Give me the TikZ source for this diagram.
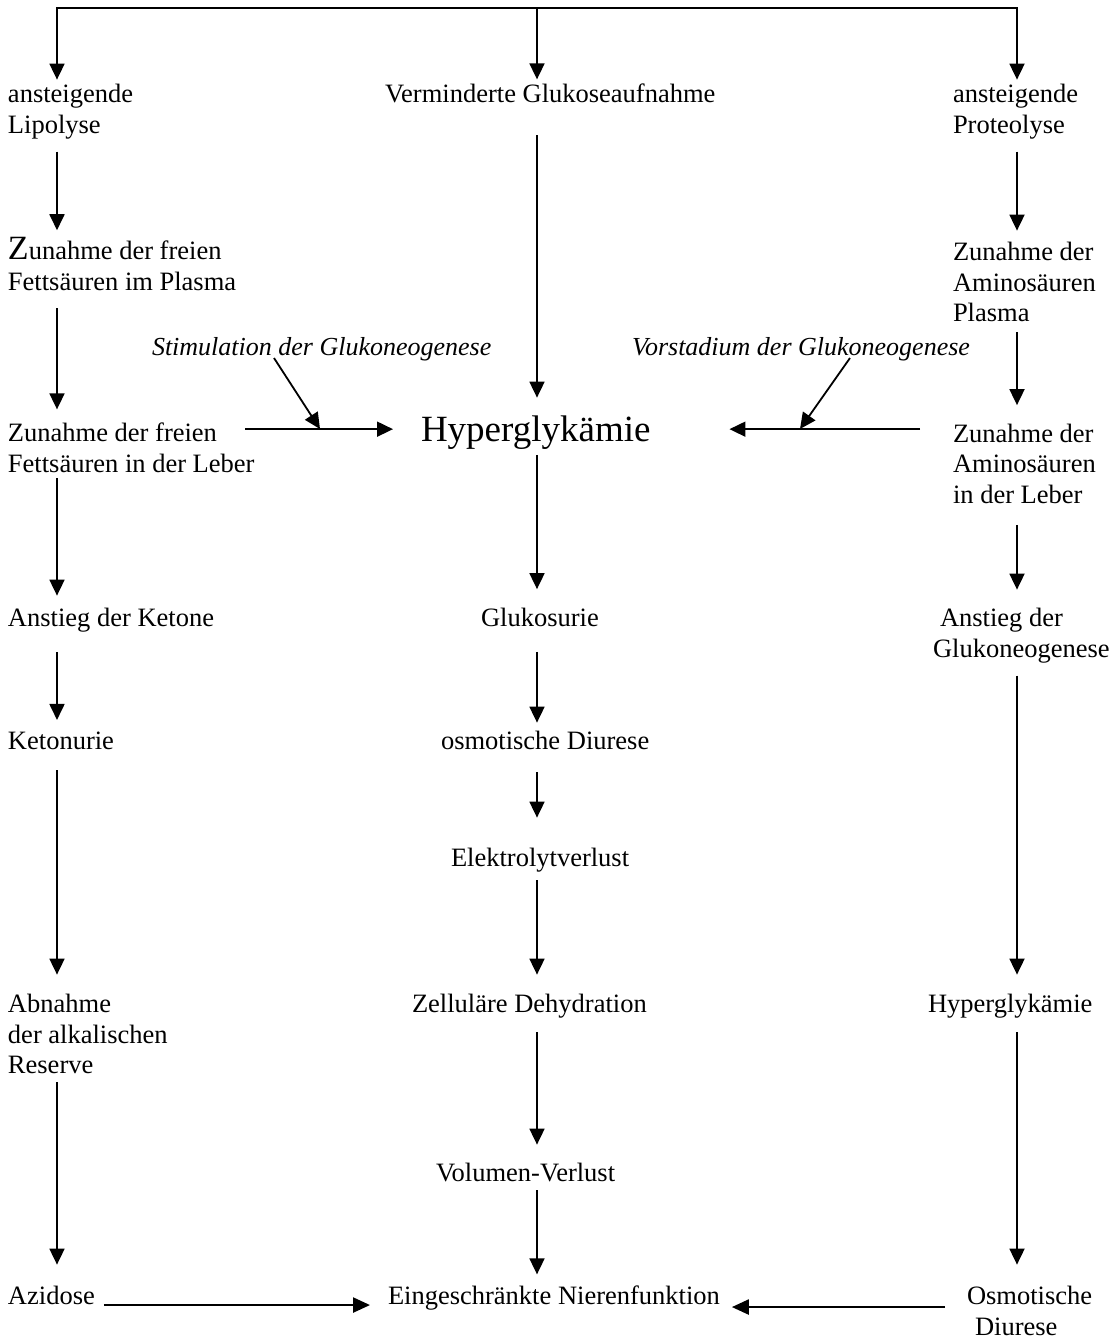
\documentclass[tikz,border=0pt]{standalone}
\usepackage{fontspec}
\setmainfont{Liberation Serif}
\usetikzlibrary{arrows.meta}
\begin{document}
\begin{tikzpicture}[x=1pt,y=-1pt]
\tikzset{
  txt/.style={font=\fontsize{26.5}{30.5}\selectfont, inner sep=0pt, outer sep=0pt, align=left, anchor=base west},
  big/.style={font=\fontsize{37}{42}\selectfont, inner sep=0pt, outer sep=0pt, anchor=base west},
  lab/.style={font=\fontsize{26}{30}\selectfont\itshape, inner sep=0pt, outer sep=0pt, anchor=base west},
  arr/.style={line width=1.8pt, -{Triangle[width=15pt,length=16pt]}},
  barr/.style={line width=2.4pt, -{Triangle[width=15pt,length=17pt]}},
}
\useasboundingbox[fill=white] (0,0) rectangle (1117,1339);
% column guide coordinates
\coordinate (lx) at (57,0);
\coordinate (cx) at (537,0);
\coordinate (rx) at (1017,0);
\coordinate (tl) at (57,8);
\coordinate (tr) at (1017,8);
\coordinate (tc) at (537,8);
% left column (anchor = baseline of last line)
\node[txt] (l1) at (8,133) {ansteigende\\Lipolyse};
\node[txt] (l2) at (8,290) {{\fontsize{34}{30.5}\selectfont Z}unahme der freien\\Fettsäuren im Plasma};
\node[txt] (l3) at (8,472) {Zunahme der freien\\Fettsäuren in der Leber};
\node[txt] (l4) at (8,626.5) {Anstieg der Ketone};
\node[txt] (l5) at (8,749.5) {Ketonurie};
\node[txt] (l6) at (8,1073.5) {Abnahme\\der alkalischen\\Reserve};
\node[txt] (l7) at (8,1304.5) {Azidose};
% centre column
\node[txt] (c1) at (385,102.5) {Verminderte Glukoseaufnahme};
\node[big] (c2) at (421,441) {Hyperglykämie};
\node[txt] (c3) at (481,626.5) {Glukosurie};
\node[txt] (c4) at (441,749.5) {osmotische Diurese};
\node[txt] (c5) at (451,866.5) {Elektrolytverlust};
\node[txt] (c6) at (412,1012.5) {Zelluläre Dehydration};
\node[txt] (c7) at (436,1181.5) {Volumen-Verlust};
\node[txt] (c8) at (388,1304.5) {Eingeschränkte Nierenfunktion};
% right column
\node[txt] (r1) at (953,133) {ansteigende\\Proteolyse};
\node[txt] (r2) at (953,321.5) {Zunahme der\\Aminosäuren\\Plasma};
\node[txt] (r3) at (953,503) {Zunahme der\\Aminosäuren\\in der Leber};
\node[txt] (r4) at (933,657) {\hspace{7pt}Anstieg der\\Glukoneogenese};
\node[txt] (r5) at (928,1012.5) {Hyperglykämie};
\node[txt] (r6) at (967,1335) {Osmotische\\\hspace{8pt}Diurese};
% italic labels
\node[lab] (s1) at (152,355) {Stimulation der Glukoneogenese};
\node[lab] (s2) at (632,355) {Vorstadium der Glukoneogenese};
\coordinate (m1) at (320,429);
\coordinate (m2) at (800,429);
% top distribution line
\draw[arr] (tc) -- (tl) -- (l1.north -| tl) [shorten >=4.5pt];
\draw[arr] (tc) -- (tr) -- (r1.north -| tr) [shorten >=4.5pt];
\draw[arr, shorten >=4.5pt] (tc) -- (c1.north -| tc);
% left column arrows
\draw[arr, shorten <=13pt, shorten >=7pt] (l1.south -| lx) -- (l2.north -| lx);
\draw[arr, shorten <=18pt, shorten >=13.5pt] (l2.south -| lx) -- (l3.north -| lx);
\draw[arr, shorten <=6pt, shorten >=12.5pt] (l3.south -| lx) -- (l4.north -| lx);
\draw[arr, shorten <=20pt, shorten >=12pt] (l4.south -| lx) -- (l5.north -| lx);
\draw[arr, shorten <=20.5pt, shorten >=19.5pt] (l5.south -| lx) -- (l6.north -| lx);
\draw[arr, shorten <=8.5pt, shorten >=21.5pt] (l6.south -| lx) -- (l7.north -| lx);
% centre column arrows
\draw[arr, shorten <=32.5pt, shorten >=17.7pt] (c1.south -| cx) -- (c2.north -| cx);
\draw[arr, shorten <=6pt, shorten >=19pt] (c2.south -| cx) -- (c3.north -| cx);
\draw[arr, shorten <=25pt, shorten >=8.5pt] (c3.south -| cx) -- (c4.north -| cx);
\draw[arr, shorten <=22.5pt, shorten >=30.5pt] (c4.south -| cx) -- (c5.north -| cx);
\draw[arr, shorten <=8pt, shorten >=19.5pt] (c5.south -| cx) -- (c6.north -| cx);
\draw[arr, shorten <=14pt, shorten >=18.5pt] (c6.south -| cx) -- (c7.north -| cx);
\draw[arr, shorten <=8.5pt, shorten >=11.5pt] (c7.south -| cx) -- (c8.north -| cx);
% right column arrows
\draw[arr, shorten <=13pt, shorten >=11.5pt] (r1.south -| rx) -- (r2.north -| rx);
\draw[arr, shorten <=10.5pt, shorten >=18.5pt] (r2.south -| rx) -- (r3.north -| rx);
\draw[arr, shorten <=21.5pt, shorten >=18.5pt] (r3.south -| rx) -- (r4.north -| rx);
\draw[arr, shorten <=13pt, shorten >=19.5pt] (r4.south -| rx) -- (r5.north -| rx);
\draw[arr, shorten <=14pt, shorten >=21.5pt] (r5.south -| rx) -- (r6.north -| rx);
% horizontal arrows into Hyperglykaemie
\draw[arr, shorten <=-9pt, shorten >=28pt] ([yshift=3pt]c2.west -| l3.east) -- ([yshift=3pt]c2.west);
\draw[arr, shorten <=33pt, shorten >=79pt] ([yshift=3pt]c2.east -| r3.west) -- ([yshift=3pt]c2.east);
\draw[arr] ([xshift=122pt,yshift=-3pt]s1.base west) -- (m1);
\draw[arr] ([xshift=218pt,yshift=-3pt]s2.base west) -- (m2);
% bottom arrows
\draw[barr, shorten <=9pt, shorten >=18pt] ([yshift=-7pt]c8.west -| l7.east) -- ([yshift=-7pt]c8.west);
\draw[barr, shorten <=22pt, shorten >=12pt] ([yshift=-9pt]c8.east -| r6.west) -- ([yshift=-9pt]c8.east);
\end{tikzpicture}
\end{document}
